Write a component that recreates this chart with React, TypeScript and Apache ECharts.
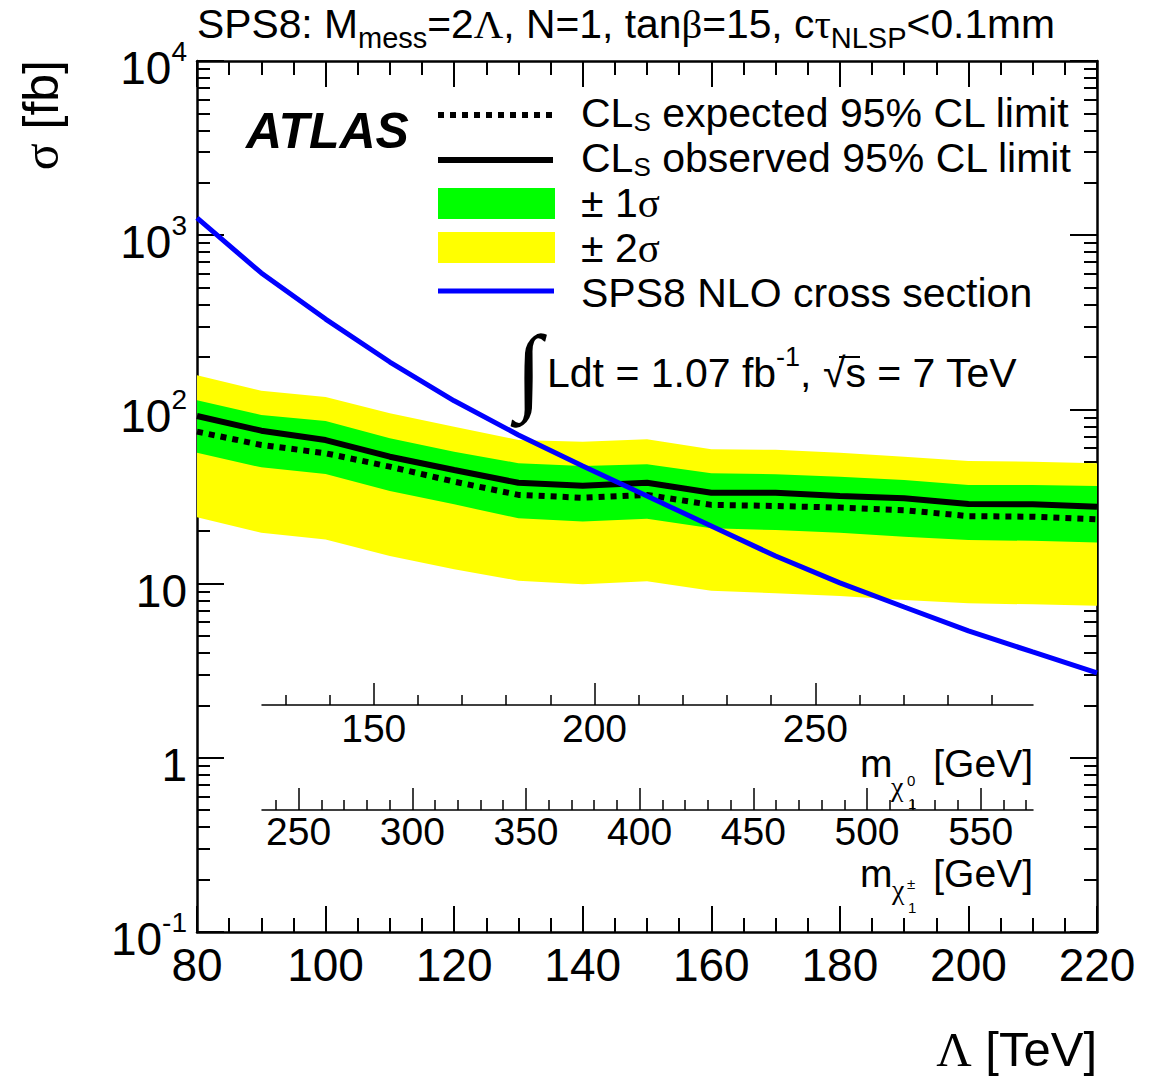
import React, { useEffect, useRef } from "react";
import * as echarts from "echarts";

const SANS = "'Liberation Sans', Arial, Helvetica, sans-serif";
const SERIF = "'Liberation Serif', 'Times New Roman', serif";

// Λ [TeV] grid
const lambdaTeV = [80, 90, 100, 110, 120, 130, 140, 150, 160, 170, 180, 190, 200, 210, 220];
// CLs observed / expected limits [fb]
const observed = [91.6, 75.5, 66.7, 53.5, 44.9, 37.9, 36.5, 37.9, 33.2, 33.2, 31.8, 30.9, 28.6, 28.5, 27.6];
const expected = [74.5, 62.5, 56.0, 46.9, 38.5, 32.3, 31.1, 32.3, 28.3, 27.9, 27.3, 26.4, 24.4, 24.2, 23.4];
// ±1σ and ±2σ bands around expected
const sigma1Up = [113, 92.9, 85.8, 68.2, 57.2, 49.1, 47.3, 48.5, 43.0, 42.5, 41.1, 39.3, 36.8, 36.8, 36.3];
const sigma1Down = [56.4, 46.5, 42.6, 34.0, 28.5, 23.7, 22.7, 23.6, 20.8, 20.3, 19.6, 18.6, 17.8, 17.6, 17.2];
const sigma2Up = [157, 128, 118, 95, 79.6, 66.7, 65.3, 67.5, 59.0, 58.6, 56.4, 53.5, 50.6, 50.1, 49.1];
const sigma2Down = [24.0, 19.6, 17.9, 14.4, 12.1, 10.4, 9.9, 10.3, 9.1, 8.8, 8.5, 8.05, 7.7, 7.6, 7.46];
// SPS8 NLO cross section [fb]
const nloXsec = [1256, 607, 330, 187, 112, 71.3, 47.3, 31.8, 21.4, 14.4, 10.1, 7.34, 5.35, 4.05, 3.07];

// y-axis minor tick values (log axis)
const yMinorTicks = [
  0.2, 0.3, 0.4, 0.5, 0.6, 0.7, 0.8, 0.9,
  2, 3, 4, 5, 6, 7, 8, 9,
  20, 30, 40, 50, 60, 70, 80, 90,
  200, 300, 400, 500, 600, 700, 800, 900,
  2000, 3000, 4000, 5000, 6000, 7000, 8000, 9000,
];

// inset mass axes
const neutralinoRange = [124.7, 299.3];
const neutralinoMajor = [150, 200, 250];
const neutralinoMinor = [130, 140, 160, 170, 180, 190, 210, 220, 230, 240, 260, 270, 280, 290];
const charginoRange = [233.9, 573];
const charginoMajor = [250, 300, 350, 400, 450, 500, 550];
const charginoMinor = [240, 260, 270, 280, 290, 310, 320, 330, 340, 360, 370, 380, 390, 410, 420, 430, 440, 460, 470, 480, 490, 510, 520, 530, 540, 560, 570];

const legendLabels = [
  "{a|CL}{s|S}{a| expected 95% CL limit}",
  "{a|CL}{s|S}{a| observed 95% CL limit}",
  "{a|± 1}{g|σ}",
  "{a|± 2}{g|σ}",
  "{a|SPS8 NLO cross section}",
];

const BLACK = "#000000";

function bandSeries(name: string, up: number[], lo: number[], color: string, z: number) {
  return {
    type: "custom",
    name,
    xAxisIndex: 0,
    yAxisIndex: 0,
    z,
    silent: true,
    clip: true,
    data: lambdaTeV.map((x, i) => [x, up[i], lo[i]]),
    encode: { x: 0, y: [1, 2] },
    renderItem: (params: any, api: any) => {
      if (params.dataIndex !== 0) return null;
      const top = lambdaTeV.map((x, i) => api.coord([x, up[i]]));
      const bot = lambdaTeV.map((x, i) => api.coord([x, lo[i]])).reverse();
      return { type: "polygon", shape: { points: top.concat(bot) }, style: { fill: color } };
    },
  };
}

function lineSeries(vals: number[], style: any, z: number) {
  return {
    type: "line",
    xAxisIndex: 0,
    yAxisIndex: 0,
    data: lambdaTeV.map((x, i) => [x, vals[i]]),
    showSymbol: false,
    symbol: "none",
    silent: true,
    z,
    lineStyle: style,
  };
}

const tickStyle = { color: BLACK, width: 2 };
const frameLine = { show: true, onZero: false, lineStyle: { color: BLACK, width: 2.5 } };

const richBase = (fs: number, lh: number) => ({
  a: { fontSize: fs, fontFamily: SANS, lineHeight: lh, fill: BLACK, color: BLACK },
  g: { fontSize: fs, fontFamily: SERIF, lineHeight: lh, fill: BLACK, color: BLACK },
});

function buildOption() {
  const mainX = {
    type: "value", gridIndex: 0, min: 80, max: 220, interval: 20, position: "bottom",
    axisLine: frameLine,
    axisTick: { show: true, inside: true, length: 26, lineStyle: tickStyle },
    minorTick: { show: true, splitNumber: 4, length: 14, lineStyle: tickStyle },
    axisLabel: { show: true, fontSize: 46, fontFamily: SANS, color: BLACK, margin: 10 },
    splitLine: { show: false },
    minorSplitLine: { show: false },
  };
  const topX = {
    ...mainX, position: "top",
    axisLabel: { show: false },
  };
  const mainY = {
    type: "log", gridIndex: 0, min: 0.1, max: 10000, logBase: 10, position: "left", splitNumber: 5,
    axisLine: frameLine,
    axisTick: { show: true, inside: true, length: 27, lineStyle: tickStyle },
    axisLabel: {
      show: true, margin: 10, color: BLACK, fontFamily: SANS, padding: [14, 0, 0, 0],
      formatter: (v: number) => {
        const e = Math.round(Math.log10(v));
        if (e === 0) return "{b|1}";
        if (e === 1) return "{b|10}";
        return "{b|10}{s|" + (e < 0 ? "-" + -e : String(e)) + "}";
      },
      rich: {
        b: { fontSize: 46, fontFamily: SANS, lineHeight: 62, color: BLACK },
        s: { fontSize: 28, fontFamily: SANS, verticalAlign: "top", lineHeight: 28, color: BLACK },
      },
    },
    splitLine: { show: false },
  };
  const rightY = { ...mainY, position: "right", axisLabel: { show: false } };
  const minorY = (pos: string) => ({
    type: "log", gridIndex: 0, min: 0.1, max: 10000, logBase: 10, position: pos,
    axisLine: { show: false, onZero: false },
    axisTick: { show: true, inside: true, length: 13, lineStyle: tickStyle, customValues: yMinorTicks },
    axisLabel: { show: false },
    splitLine: { show: false },
  });

  const insetMajor = (grid: number, range: number[], vals: number[], margin: number) => ({
    type: "value", gridIndex: grid, min: range[0], max: range[1], position: "bottom",
    axisLine: { show: true, onZero: false, lineStyle: { color: BLACK, width: 1.5 } },
    axisTick: { show: true, inside: true, length: 22, lineStyle: { color: BLACK, width: 1.5 }, customValues: vals },
    axisLabel: { show: true, customValues: vals, fontSize: 39, fontFamily: SANS, color: BLACK, margin, lineHeight: 34 },
    splitLine: { show: false },
  });
  const insetMinor = (grid: number, range: number[], vals: number[]) => ({
    type: "value", gridIndex: grid, min: range[0], max: range[1], position: "bottom",
    axisLine: { show: false, onZero: false },
    axisTick: { show: true, inside: true, length: 10, lineStyle: { color: BLACK, width: 1.5 }, customValues: vals },
    axisLabel: { show: false },
    splitLine: { show: false },
  });
  const hiddenY = (grid: number) => ({ type: "value", gridIndex: grid, min: 0, max: 1, show: false });

  const insetTitle = (text: string, x: number, y: number, fs: number, family: string, align: string = "left") => ({
    type: "text", x, y, z: 100,
    style: { text, align, verticalAlign: "middle", fontSize: fs, lineHeight: Math.round(fs * 0.85), fontFamily: family, fill: BLACK },
  });

  const legendY = [113, 158, 203, 248, 293];
  const graphic: any[] = [
    // ATLAS label
    { type: "text", x: 246, y: 131, z: 100, style: { text: "ATLAS", fontSize: 50, fontWeight: "bold", fontStyle: "italic", fontFamily: SANS, fill: BLACK, verticalAlign: "middle" } },
    // legend symbols
    { type: "line", z: 100, shape: { x1: 438, y1: 115, x2: 553, y2: 115 }, style: { stroke: BLACK, lineWidth: 6, lineDash: [6, 6] } },
    { type: "line", z: 100, shape: { x1: 438, y1: 160, x2: 553, y2: 160 }, style: { stroke: BLACK, lineWidth: 6 } },
    { type: "rect", z: 100, shape: { x: 438, y: 188, width: 117, height: 31 }, style: { fill: "#00ff00" } },
    { type: "rect", z: 100, shape: { x: 438, y: 232, width: 117, height: 31 }, style: { fill: "#ffff00" } },
    { type: "line", z: 100, shape: { x1: 438, y1: 291, x2: 554, y2: 291 }, style: { stroke: "#0000ff", lineWidth: 5 } },
    ...legendLabels.map((t, i) => ({
      type: "text", x: 581, y: legendY[i], z: 100,
      style: {
        text: t, verticalAlign: "middle", fill: BLACK,
        rich: {
          ...richBase(41, 60),
          s: { fontSize: 26, fontFamily: SANS, verticalAlign: "top", padding: [26, 0, 0, 0], lineHeight: 26, fill: BLACK },
        },
      },
    })),
    // luminosity
    { type: "text", x: 529, y: 369, z: 100, style: { text: "∫", fontSize: 96, fontWeight: "bold", fontFamily: SERIF, fill: BLACK, align: "center", verticalAlign: "middle" } },
    {
      type: "text", x: 547, y: 373, z: 100,
      style: {
        text: "{a|Ldt = 1.07 fb}{sup|-1}{a|, √s = 7 TeV}", verticalAlign: "middle", fill: BLACK,
        rich: { ...richBase(41, 60), sup: { fontSize: 27, fontFamily: SANS, verticalAlign: "top", lineHeight: 27, fill: BLACK } },
      },
    },
    { type: "line", z: 100, shape: { x1: 839, y1: 357, x2: 860, y2: 357 }, style: { stroke: BLACK, lineWidth: 2 } },
    // title
    {
      type: "text", x: 197, y: 24, z: 100,
      style: {
        text: "{a|SPS8: M}{sub|mess}{a|=2}{g|Λ}{a|, N=1, tan}{g|β}{a|=15, c}{g|τ}{sub|NLSP}{a|<0.1mm}",
        verticalAlign: "middle", fill: BLACK,
        rich: { ...richBase(40.8, 60), sub: { fontSize: 29, fontFamily: SANS, verticalAlign: "top", padding: [29, 0, 0, 0], lineHeight: 29, fill: BLACK } },
      },
    },
    // y axis title
    {
      type: "text", x: 41, y: 60, rotation: Math.PI / 2, z: 100,
      style: { text: "{g|σ}{a| [fb]}", align: "right", verticalAlign: "middle", fill: BLACK, rich: richBase(50, 54) },
    },
    // x axis title
    {
      type: "text", x: 1097, y: 1049, z: 100,
      style: { text: "{g|Λ}{a| [TeV]}", align: "right", verticalAlign: "middle", fill: BLACK, rich: richBase(49, 54) },
    },
    // neutralino axis title
    insetTitle("[GeV]", 1033, 763, 39, SANS, "right"),
    insetTitle("m", 860, 763, 39, SANS),
    insetTitle("χ", 891, 786, 28, SERIF),
    insetTitle("0", 907, 780, 15, SANS),
    insetTitle("1", 908, 803, 15, SANS),
    // chargino axis title
    insetTitle("[GeV]", 1033, 873, 39, SANS, "right"),
    insetTitle("m", 860, 873, 39, SANS),
    insetTitle("χ", 892, 889, 28, SERIF),
    insetTitle("±", 907, 883, 15, SANS),
    insetTitle("1", 908, 907, 15, SANS),
  ];

  return {
    animation: false,
    backgroundColor: "#ffffff",
    grid: [
      { left: 197, top: 61, width: 900, height: 871, outerBoundsMode: "none", containLabel: false },
      { left: 262, top: 600, width: 771, height: 105, outerBoundsMode: "none", containLabel: false },
      { left: 262, top: 700, width: 771, height: 110, outerBoundsMode: "none", containLabel: false },
    ],
    xAxis: [
      mainX,
      topX,
      insetMajor(1, neutralinoRange, neutralinoMajor, 6),
      insetMinor(1, neutralinoRange, neutralinoMinor),
      insetMajor(2, charginoRange, charginoMajor, 4),
      insetMinor(2, charginoRange, charginoMinor),
    ],
    yAxis: [mainY, rightY, minorY("left"), minorY("right"), hiddenY(1), hiddenY(2)],
    series: [
      bandSeries("±2σ", sigma2Up, sigma2Down, "#ffff00", 1),
      bandSeries("±1σ", sigma1Up, sigma1Down, "#00ff00", 2),
      lineSeries(expected, { color: BLACK, width: 6, type: [6, 6], cap: "butt" }, 3),
      lineSeries(observed, { color: BLACK, width: 6 }, 4),
      lineSeries(nloXsec, { color: "#0000ff", width: 5 }, 5),
    ],
    graphic,
  };
}

export default function App() {
  const ref = useRef<HTMLDivElement>(null);
  useEffect(() => {
    if (!ref.current) return;
    const chart = echarts.init(ref.current, null, { renderer: "svg" });
    chart.setOption(buildOption() as any);
    return () => chart.dispose();
  }, []);
  return (
    <div
      ref={ref}
      style={{ position: "fixed", left: 0, top: 0, width: 1154, height: 1078, background: "#ffffff" }}
    />
  );
}
